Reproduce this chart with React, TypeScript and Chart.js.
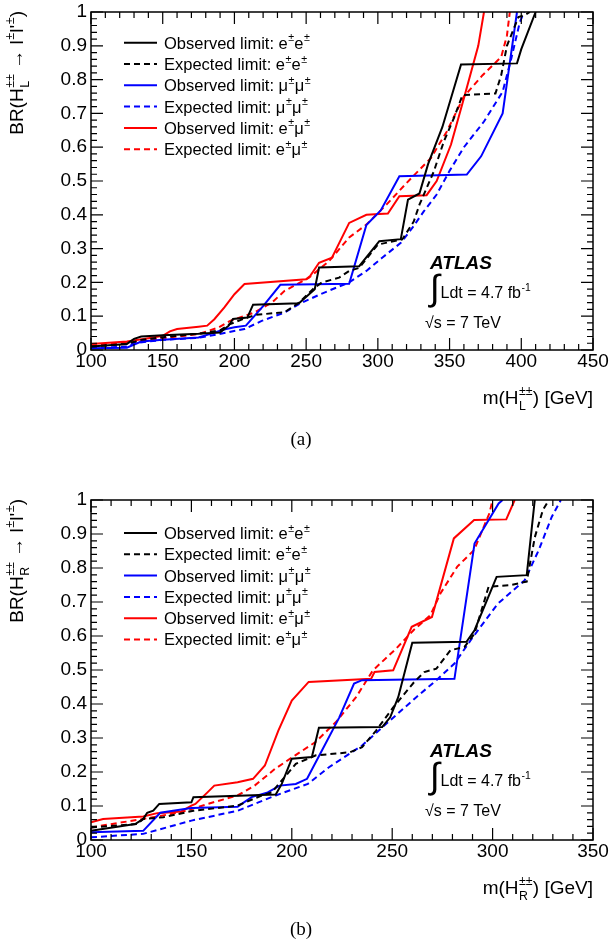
import React, { useEffect, useRef } from 'react';
import { Chart, registerables } from 'chart.js';

Chart.register(...registerables);

const SANS = '"Liberation Sans", Arial, Helvetica, sans-serif';
const SERIF = '"Liberation Serif", "Times New Roman", serif';

type Pt = [number, number];

// ---------- labels ----------
const brTickLabels = ['0', '0.1', '0.2', '0.3', '0.4', '0.5', '0.6', '0.7', '0.8', '0.9', '1'];
const seriesLabels = [
  'Observed limit: e^{±}e^{±}',
  'Expected limit: e^{±}e^{±}',
  'Observed limit: μ^{±}μ^{±}',
  'Expected limit: μ^{±}μ^{±}',
  'Observed limit: e^{±}μ^{±}',
  'Expected limit: e^{±}μ^{±}',
];
const seriesColors = ['#000000', '#000000', '#0000ff', '#0000ff', '#ff0000', '#ff0000'];
const seriesDashed = [false, true, false, true, false, true];

// ---------- panel (a): H_L ----------
const obsEE_L: Pt[] = [[100,0.01],[125,0.018],[130,0.033],[135,0.04],[150,0.044],[175,0.048],[190,0.052],[196,0.072],[199,0.092],[209,0.096],[213,0.134],[245,0.138],[256,0.18],[259,0.244],[287,0.248],[301,0.322],[316,0.328],[321,0.445],[329,0.463],[335,0.55],[345,0.66],[358,0.845],[397,0.848],[400,0.89],[410,1.0]];
const expEE_L: Pt[] = [[100,0.01],[125,0.018],[135,0.03],[150,0.038],[175,0.048],[190,0.058],[196,0.075],[205,0.09],[215,0.104],[235,0.112],[245,0.14],[256,0.185],[261,0.2],[273,0.214],[280,0.234],[287,0.243],[300,0.312],[317,0.327],[325,0.38],[329,0.43],[339,0.528],[346,0.617],[353,0.686],[359,0.754],[382,0.759],[386,0.813],[390,0.9],[398,0.985],[402,0.99],[406,1.0]];
const obsMM_L: Pt[] = [[100,0.005],[125,0.007],[135,0.025],[150,0.03],[175,0.037],[185,0.05],[192,0.06],[200,0.067],[208,0.072],[220,0.13],[232,0.193],[280,0.196],[292,0.37],[302,0.413],[315,0.514],[362,0.519],[372,0.573],[387,0.7],[392,0.85],[397,1.0]];
const expMM_L: Pt[] = [[100,0.005],[125,0.01],[130,0.02],[150,0.03],[175,0.036],[189,0.047],[207,0.062],[219,0.086],[235,0.111],[245,0.136],[261,0.167],[280,0.2],[292,0.234],[303,0.273],[316,0.317],[324,0.361],[332,0.41],[341,0.46],[350,0.53],[360,0.6],[374,0.676],[387,0.764],[393,0.862],[399,0.97],[402,1.0]];
const obsEM_L: Pt[] = [[100,0.018],[125,0.025],[140,0.035],[150,0.042],[155,0.055],[160,0.062],[175,0.069],[181,0.072],[186,0.091],[193,0.126],[200,0.165],[207,0.195],[250,0.209],[253,0.22],[259,0.258],[268,0.273],[280,0.376],[292,0.4],[307,0.404],[315,0.455],[334,0.458],[341,0.5],[351,0.608],[360,0.745],[370,0.9],[374,1.0]];
const expEM_L: Pt[] = [[100,0.013],[125,0.022],[150,0.035],[175,0.047],[189,0.067],[197,0.086],[214,0.111],[226,0.14],[235,0.175],[252,0.214],[266,0.263],[280,0.333],[292,0.371],[306,0.43],[320,0.494],[337,0.568],[348,0.646],[360,0.75],[373,0.813],[386,0.867],[390,0.93],[392,1.0]];

// ---------- panel (b): H_R ----------
const obsEE_R: Pt[] = [[100,0.027],[122,0.047],[126,0.062],[128,0.08],[131,0.086],[134,0.106],[150,0.111],[151,0.126],[192,0.134],[195,0.165],[200,0.239],[210,0.244],[213.5,0.33],[245,0.332],[249,0.361],[253,0.42],[260,0.58],[287,0.583],[291,0.617],[302,0.774],[317,0.779],[321,1.0]];
const expEE_R: Pt[] = [[100,0.037],[123,0.047],[126,0.062],[136,0.067],[151,0.086],[173,0.101],[185,0.131],[190,0.14],[195,0.175],[202,0.224],[212,0.249],[229,0.258],[235,0.273],[242,0.322],[250.5,0.39],[261,0.465],[266,0.494],[272,0.504],[279,0.558],[286,0.568],[291,0.607],[298,0.745],[309,0.75],[317,0.76],[321,0.89],[325,0.97],[328,1.0]];
const obsMM_R: Pt[] = [[100,0.023],[126,0.027],[134.5,0.08],[145,0.09],[150,0.094],[173,0.098],[180,0.126],[188,0.14],[194,0.16],[202,0.165],[207.6,0.18],[215,0.263],[223.6,0.36],[231,0.46],[235,0.47],[281,0.474],[291,0.872],[303,0.99],[305,1.0]];
const expMM_R: Pt[] = [[100,0.008],[126,0.018],[150,0.057],[173,0.086],[192,0.131],[208,0.165],[218.5,0.214],[235,0.278],[249,0.352],[262,0.42],[272,0.47],[281,0.519],[289,0.587],[302.6,0.695],[316,0.764],[323,0.853],[329.5,0.951],[334,1.0]];
const obsEM_R: Pt[] = [[100,0.052],[106,0.062],[126,0.069],[133,0.079],[145,0.084],[150,0.101],[152,0.106],[158,0.14],[161.4,0.16],[173,0.17],[180.7,0.18],[186.6,0.219],[193.3,0.322],[200,0.41],[208.4,0.465],[239.5,0.474],[241.2,0.494],[250.5,0.499],[259.7,0.627],[269.8,0.656],[280.7,0.887],[290.8,0.941],[306.8,0.943],[311,1.0]];
const expEM_R: Pt[] = [[100,0.037],[126,0.062],[145,0.082],[161,0.111],[173,0.131],[181.5,0.16],[191.6,0.209],[201.7,0.249],[211.8,0.288],[222,0.347],[232,0.42],[240.4,0.499],[252,0.563],[260.6,0.617],[269,0.661],[274,0.725],[282.4,0.804],[290.8,0.853],[298.4,0.961],[300,1.0]];

const xMajorStep = 50;
const xMinorStep = 10;
const yMajorStep = 0.1;
const yMinorStep = 0.02;

type PanelOpts = {
  top: number;
  height: number;
  plotTop: number;
  plotBottom: number;
  xMax: number;
  chirality: string;
  caption: string;
  captionY: number;
  legendTop: number;
  series: Pt[][];
};

const panelA: PanelOpts = {
  top: 0, height: 470, plotTop: 12, plotBottom: 350, xMax: 450, chirality: 'L',
  caption: '(a)', captionY: 440, legendTop: 30.7,
  series: [obsEE_L, expEE_L, obsMM_L, expMM_L, obsEM_L, expEM_L],
};
const panelB: PanelOpts = {
  top: 488, height: 457, plotTop: 12, plotBottom: 352, xMax: 350, chirality: 'R',
  caption: '(b)', captionY: 442, legendTop: 33,
  series: [obsEE_R, expEE_R, obsMM_R, expMM_R, obsEM_R, expEM_R],
};

// ---------- rich text helper ----------
type Seg = { t: string; sup?: string; sub?: string };
function parseRich(s: string): Seg[] {
  const out: Seg[] = [];
  let cur = '';
  let i = 0;
  while (i < s.length) {
    const c = s[i];
    if ((c === '^' || c === '_') && s[i + 1] === '{') {
      const end = s.indexOf('}', i);
      const content = s.slice(i + 2, end);
      if (cur || out.length === 0) { out.push({ t: cur }); cur = ''; }
      const last = out[out.length - 1];
      if (c === '^') last.sup = content; else last.sub = content;
      i = end + 1;
    } else { cur += c; i++; }
  }
  if (cur) out.push({ t: cur });
  return out;
}

function drawRich(ctx: CanvasRenderingContext2D, text: string, x: number, yCenter: number, size: number, align: 'left' | 'right' | 'center') {
  const segs = parseRich(text);
  const small = size * 0.65;
  const f1 = `${size}px ${SANS}`;
  const f2 = `${small}px ${SANS}`;
  const items = segs.map((sg) => {
    ctx.font = f1;
    const wt = ctx.measureText(sg.t).width;
    ctx.font = f2;
    const ws = Math.max(sg.sup ? ctx.measureText(sg.sup).width : 0, sg.sub ? ctx.measureText(sg.sub).width : 0);
    return { sg, wt, w: wt + ws + (ws ? size * 0.04 : 0) };
  });
  const total = items.reduce((a, b) => a + b.w, 0);
  let cx = align === 'left' ? x : align === 'right' ? x - total : x - total / 2;
  const base = yCenter + size * 0.36;
  ctx.textAlign = 'left';
  ctx.textBaseline = 'alphabetic';
  for (const it of items) {
    ctx.font = f1;
    ctx.fillText(it.sg.t, cx, base);
    ctx.font = f2;
    if (it.sg.sup) ctx.fillText(it.sg.sup, cx + it.wt + 0.5, base - size * 0.45);
    if (it.sg.sub) ctx.fillText(it.sg.sub, cx + it.wt + 0.5, base + size * 0.3);
    cx += it.w;
  }
}

function Panel({ p }: { p: PanelOpts }) {
  const ref = useRef<HTMLCanvasElement>(null);
  useEffect(() => {
    const canvas = ref.current!;
    const decor = {
      id: 'rootDecor',
      afterDraw(chart: any) {
        const ctx: CanvasRenderingContext2D = chart.ctx;
        const a = chart.chartArea;
        const xs = chart.scales.x;
        const ys = chart.scales.y;
        ctx.save();
        ctx.strokeStyle = '#000';
        ctx.fillStyle = '#000';
        ctx.setLineDash([]);
        // frame
        ctx.lineWidth = 1.5;
        ctx.strokeRect(a.left, a.top, a.right - a.left, a.bottom - a.top);
        // ticks (inward)
        ctx.lineWidth = 1.2;
        ctx.beginPath();
        const nx = Math.round((p.xMax - 100) / xMinorStep);
        for (let k = 0; k <= nx; k++) {
          const v = 100 + k * xMinorStep;
          const px = xs.getPixelForValue(v);
          const len = Math.abs((v - 100) % xMajorStep) < 1e-6 ? 12 : 6;
          ctx.moveTo(px, a.bottom); ctx.lineTo(px, a.bottom - len);
          ctx.moveTo(px, a.top); ctx.lineTo(px, a.top + len);
        }
        const ny = Math.round(1 / yMinorStep);
        const per = Math.round(yMajorStep / yMinorStep);
        for (let k = 0; k <= ny; k++) {
          const py = ys.getPixelForValue(k * yMinorStep);
          const len = k % per === 0 ? 12 : 6;
          ctx.moveTo(a.left, py); ctx.lineTo(a.left + len, py);
          ctx.moveTo(a.right, py); ctx.lineTo(a.right - len, py);
        }
        ctx.stroke();

        // legend
        chart.data.datasets.forEach((ds: any, i: number) => {
          const y = a.top + p.legendTop + i * 21.3;
          ctx.strokeStyle = ds.borderColor;
          ctx.lineWidth = ds.borderWidth;
          ctx.setLineDash(ds.borderDash || []);
          ctx.beginPath();
          ctx.moveTo(124, y); ctx.lineTo(157, y);
          ctx.stroke();
          ctx.setLineDash([]);
          ctx.fillStyle = '#000';
          drawRich(ctx, ds.label, 164, y, 16.5, 'left');
        });

        // ATLAS label
        ctx.fillStyle = '#000';
        ctx.font = `italic bold 19px ${SANS}`;
        ctx.textAlign = 'left';
        ctx.textBaseline = 'alphabetic';
        ctx.fillText('ATLAS', 430, a.top + 250 + 19 * 0.36);
        // integral sign
        ctx.font = `32px ${SANS}`;
        const m = ctx.measureText('∫');
        const gh = m.actualBoundingBoxAscent + m.actualBoundingBoxDescent;
        const fs = 32 * 35 / (gh || 35);
        ctx.font = `${fs}px ${SANS}`;
        const m2 = ctx.measureText('∫');
        ctx.fillText('∫', 428 + m2.actualBoundingBoxLeft, a.top + 295.5 - m2.actualBoundingBoxDescent);
        drawRich(ctx, 'Ldt = 4.7 fb^{-1}', 440.5, a.top + 280.5, 16, 'left');
        drawRich(ctx, '√s = 7 TeV', 425, a.top + 310.5, 16, 'left');

        // x title
        drawRich(ctx, `m(H^{±±}_{${p.chirality}}) [GeV]`, a.right, a.bottom + 47, 19, 'right');
        // y title
        ctx.save();
        ctx.translate(16, a.top - 1);
        ctx.rotate(-Math.PI / 2);
        drawRich(ctx, `BR(H^{±±}_{${p.chirality}} → l^{±}l'^{±})`, 0, 0, 19, 'right');
        ctx.restore();

        // caption
        ctx.font = `19px ${SERIF}`;
        ctx.textAlign = 'center';
        ctx.textBaseline = 'middle';
        ctx.fillText(p.caption, 301, p.captionY);
        ctx.restore();
      },
    };

    const chart = new Chart(canvas, {
      type: 'scatter',
      data: {
        datasets: p.series.map((pts, i) => ({
          label: seriesLabels[i],
          data: pts.map(([x, y]) => ({ x, y })),
          showLine: true,
          borderColor: seriesColors[i],
          backgroundColor: seriesColors[i],
          borderWidth: 2,
          borderDash: seriesDashed[i] ? [6, 4] : [],
          pointRadius: 0,
          pointHoverRadius: 0,
          tension: 0,
          fill: false,
        })),
      },
      options: {
        animation: false,
        responsive: false,
        maintainAspectRatio: false,
        events: [],
        layout: { padding: { left: 0, right: 609 - 593, top: p.plotTop, bottom: 0 } },
        plugins: { legend: { display: false }, tooltip: { enabled: false } },
        scales: {
          x: {
            type: 'linear',
            min: 100,
            max: p.xMax,
            grid: { display: false, drawTicks: false },
            border: { display: false },
            ticks: {
              stepSize: xMajorStep,
              autoSkip: false,
              maxRotation: 0,
              padding: 0,
              color: '#000',
              font: { family: SANS, size: 19 },
              callback: (v: any) => String(v),
            },
            afterFit: (s: any) => {
              s.height = p.height - p.plotBottom;
              s.paddingLeft = 0; s.paddingRight = 0; s.paddingTop = 0; s.paddingBottom = 0;
            },
          },
          y: {
            type: 'linear',
            min: 0,
            max: 1,
            grid: { display: false, drawTicks: false },
            border: { display: false },
            ticks: {
              stepSize: yMajorStep,
              autoSkip: false,
              padding: 4,
              color: '#000',
              font: { family: SANS, size: 19 },
              callback: (v: any) => brTickLabels[Math.round(Number(v) / yMajorStep)] ?? '',
            },
            afterFit: (s: any) => {
              s.width = 91;
              s.paddingLeft = 0; s.paddingRight = 0; s.paddingTop = 0; s.paddingBottom = 0;
            },
          },
        },
      },
      plugins: [decor],
    } as any);
    return () => chart.destroy();
  }, [p]);
  return (
    <canvas
      ref={ref}
      width={609}
      height={p.height}
      style={{ position: 'absolute', left: 0, top: p.top, width: 609, height: p.height, display: 'block' }}
    />
  );
}

export default function App() {
  return (
    <div style={{ position: 'absolute', left: 0, top: 0, width: 609, height: 945, background: '#fff', overflow: 'hidden' }}>
      <Panel p={panelA} />
      <Panel p={panelB} />
    </div>
  );
}
